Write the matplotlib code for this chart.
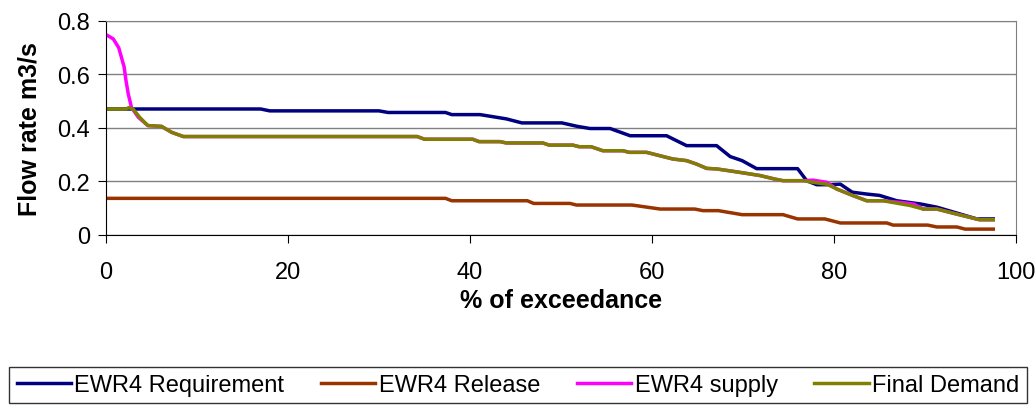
import matplotlib
matplotlib.use("Agg")
import matplotlib.pyplot as plt

plt.rcParams['font.family'] = ['Liberation Sans', 'DejaVu Sans']

# EWR4 Requirement
req_x = [0, 17, 18, 30, 31, 37.3, 38, 41.1, 44, 45.7, 50.1, 51.8, 53.2, 55.4, 57.6, 61.6,
         63.8, 67.1, 68.6, 69.9, 71.5, 76, 77, 78.1, 79.2, 80.7, 82, 83.6, 85, 86.9, 89.5,
         91.3, 93.1, 95.7, 97.5]
req_y = [0.471, 0.471, 0.464, 0.464, 0.458, 0.458, 0.45, 0.45, 0.434, 0.419, 0.419, 0.406,
         0.398, 0.398, 0.371, 0.371, 0.334, 0.334, 0.293, 0.278, 0.248, 0.248, 0.203, 0.188,
         0.188, 0.19, 0.16, 0.153, 0.148, 0.128, 0.116, 0.104, 0.086, 0.06, 0.06]

# EWR4 Release
rel_x = [0, 37.3, 38, 46.3, 47, 51, 51.7, 57.8, 60.9, 64.7, 65.6, 67.3, 69.9, 74.4, 76, 79,
         80.7, 85.8, 86.5, 90.3, 91.3, 93.5, 94.4, 97.5]
rel_y = [0.137, 0.137, 0.128, 0.128, 0.118, 0.118, 0.112, 0.112, 0.097, 0.097, 0.091, 0.091,
         0.076, 0.076, 0.06, 0.06, 0.045, 0.045, 0.037, 0.037, 0.03, 0.03, 0.022, 0.022]

# Final Demand
dem_x = [0, 2.2, 2.5, 3, 3.7, 4.6, 6.1, 7.2, 8.5, 34.2, 35, 40.3, 41, 43.3, 44, 48, 48.7,
         51.3, 52, 53.3, 54.6, 56.8, 57.5, 59.4, 60.9, 62.3, 63.8, 64.9, 66, 67.1, 68.9, 70.8,
         71.9, 73.5, 74.4, 76.6, 77.7, 79.2, 80.3, 82.1, 83.6, 85.4, 88.4, 89.8, 91.3, 93.5,
         96, 97.5]
dem_y = [0.471, 0.471, 0.476, 0.47, 0.44, 0.409, 0.406, 0.384, 0.368, 0.368, 0.358, 0.358,
         0.349, 0.349, 0.344, 0.344, 0.336, 0.336, 0.33, 0.33, 0.315, 0.315, 0.309, 0.309,
         0.296, 0.284, 0.278, 0.265, 0.249, 0.247, 0.238, 0.228, 0.222, 0.209, 0.203, 0.203,
         0.197, 0.19, 0.172, 0.147, 0.128, 0.128, 0.11, 0.097, 0.097, 0.078, 0.057, 0.057]

# EWR4 supply (follows final demand after the first few percent)
sup_x = [0, 0.8, 1.4, 1.7, 2.0, 2.2, 2.45, 2.8, 3.55, 4.6, 6.1, 7.2, 8.5, 34.2, 35, 40.3, 41,
         43.3, 44, 48, 48.7, 51.3, 52, 53.3, 54.6, 56.8, 57.5, 59.4, 60.9, 62.3, 63.8, 64.9,
         66, 67.1, 68.9, 70.8, 71.9, 73.5, 74.4, 76.6, 77.7, 79.2, 80.3, 82.1, 83.6, 85.4,
         87.8, 88.8, 89.8, 91.3, 93.5, 96, 97.5]
sup_y = [0.749, 0.733, 0.70, 0.664, 0.627, 0.577, 0.527, 0.477, 0.44, 0.409, 0.406, 0.384,
         0.368, 0.368, 0.358, 0.358, 0.349, 0.349, 0.344, 0.344, 0.336, 0.336, 0.33, 0.33,
         0.315, 0.315, 0.309, 0.309, 0.296, 0.284, 0.278, 0.265, 0.249, 0.247, 0.238, 0.228,
         0.222, 0.209, 0.203, 0.203, 0.205, 0.197, 0.172, 0.147, 0.128, 0.128, 0.12, 0.115,
         0.097, 0.097, 0.078, 0.057, 0.057]

fig = plt.figure(figsize=(10.36, 4.10), dpi=100)
ax = fig.add_axes([0.1023, 0.4244, 0.8784, 0.5220])

lw = 2.5
ax.plot(req_x, req_y, color='#000080', lw=lw, label='EWR4 Requirement')
ax.plot(rel_x, rel_y, color='#993300', lw=lw, label='EWR4 Release')
ax.plot(sup_x, sup_y, color='#FF00FF', lw=lw, label='EWR4 supply')
ax.plot(dem_x, dem_y, color='#808000', lw=lw, label='Final Demand')

ax.set_xlim(0, 100)
ax.set_ylim(0, 0.8)
ax.set_xticks([0, 20, 40, 60, 80, 100])
ax.set_yticks([0, 0.2, 0.4, 0.6, 0.8])
ax.set_yticklabels(['0', '0.2', '0.4', '0.6', '0.8'])
ax.tick_params(labelsize=17, length=5.5, direction='out', color='black')
ax.tick_params(axis='x', pad=13)
ax.tick_params(axis='y', pad=6)
ax.grid(axis='y', color='#808080', lw=1)
ax.set_axisbelow(True)
for s in ['top', 'right']:
    ax.spines[s].set_color('#808080')
for s in ['left', 'bottom']:
    ax.spines[s].set_color('black')

ax.set_xlabel('% of exceedance', fontsize=18, fontweight='bold', labelpad=4)
ax.set_ylabel('Flow rate m3/s', fontsize=18, fontweight='bold', labelpad=11)

leg = fig.legend(loc='center', bbox_to_anchor=(0.5, 0.0585), ncol=4, fontsize=17,
                 frameon=True, fancybox=False, edgecolor='black', handlelength=2.3,
                 handletextpad=0.15, columnspacing=1.55, borderpad=0.3, borderaxespad=0)
leg.get_frame().set_linewidth(1)

fig.savefig('out.png', dpi=100)
